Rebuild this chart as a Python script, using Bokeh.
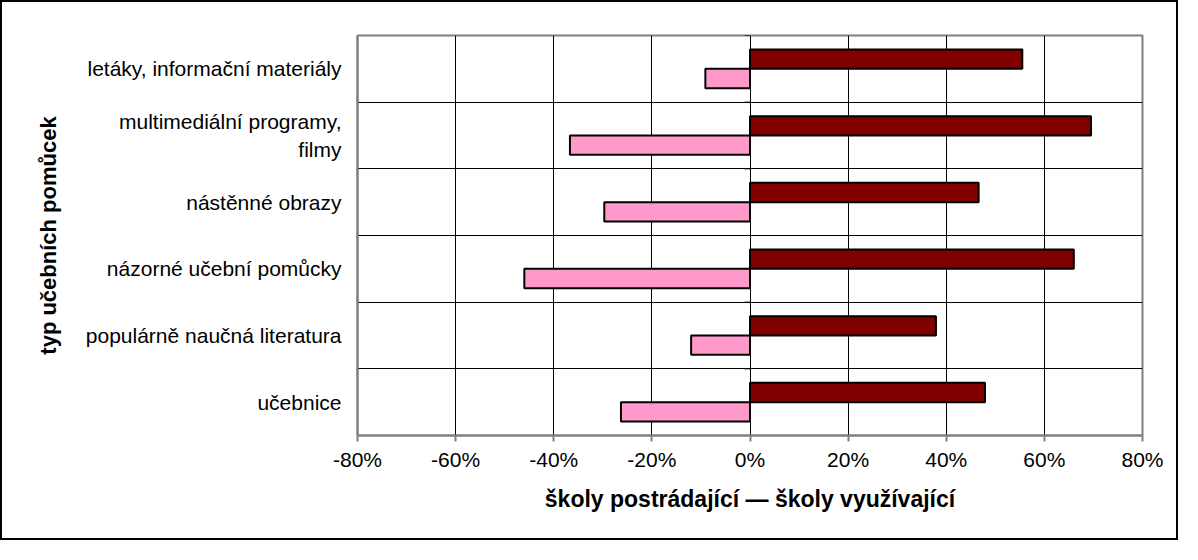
from bokeh.plotting import figure
from bokeh.models import ColumnDataSource, FixedTicker, PrintfTickFormatter, Range1d
from bokeh.transform import dodge
from bokeh.embed import file_html
from bokeh.resources import INLINE

# Data (top to bottom as in the chart)
categories = [
    "letáky, informační materiály",
    "multimediální programy,\nfilmy",
    "nástěnné obrazy",
    "názorné učební pomůcky",
    "populárně naučná literatura",
    "učebnice",
]
skoly_vyuzivajici = [55.5, 69.5, 46.6, 66.0, 37.9, 47.9]
skoly_postradajici = [-9.1, -36.7, -29.7, -46.0, -12.0, -26.3]
x_ticks = [-80, -60, -40, -20, 0, 20, 40, 60, 80]

n = len(categories)
positions = [n - 1 - i + 0.5 for i in range(n)]

source = ColumnDataSource(dict(
    cat=categories,
    pos=positions,
    use=skoly_vyuzivajici,
    lack=skoly_postradajici,
))

p = figure(
    width=1178, height=540,
    x_range=Range1d(x_ticks[0], x_ticks[-1]),
    y_range=Range1d(0, n),
    output_backend="svg", toolbar_location=None,
    min_border_left=355, min_border_right=38,
    min_border_top=33, min_border_bottom=107,
)
p.styles = {"border": "2px solid black"}
p.background_fill_color = "white"
p.border_fill_color = "white"
p.outline_line_color = "#808080"
p.outline_line_width = 2

bar_h = 0.29
p.hbar(y=dodge("pos", bar_h / 2, range=p.y_range), left=0, right="use", height=bar_h,
       source=source, fill_color="#800000", line_color="black", line_width=2)
p.hbar(y=dodge("pos", -bar_h / 2, range=p.y_range), left=0, right="lack", height=bar_h,
       source=source, fill_color="#FF99CC", line_color="black", line_width=2)

# grid
p.xgrid.ticker = FixedTicker(ticks=x_ticks[1:-1])
p.xgrid.grid_line_color = "black"
p.xgrid.grid_line_width = 1
p.ygrid.ticker = FixedTicker(ticks=list(range(1, n)))
p.ygrid.grid_line_color = "black"
p.ygrid.grid_line_width = 1

# small category-axis ticks at the 0 crossing
bounds = list(range(0, n + 1))
p.segment(x0=[0] * len(bounds), x1=[-1.1] * len(bounds), y0=bounds, y1=bounds,
          line_color="black", line_width=1)

font = "Liberation Sans"

# x axis
xa = p.xaxis[0]
xa.ticker = FixedTicker(ticks=x_ticks)
xa.formatter = PrintfTickFormatter(format="%d%%")
xa.axis_line_color = "#808080"
xa.axis_line_width = 2
xa.major_tick_line_color = "#808080"
xa.major_tick_line_width = 2
xa.major_tick_out = 6
xa.major_tick_in = 0
xa.minor_tick_line_color = None
xa.major_label_text_font = font
xa.major_label_text_font_size = "21px"
xa.major_label_text_color = "black"
xa.major_label_standoff = 6
xa.axis_label = "školy postrádající — školy využívající"
xa.axis_label_text_font = font
xa.axis_label_text_font_size = "23px"
xa.axis_label_text_font_style = "bold"
xa.axis_label_text_color = "black"
xa.axis_label_standoff = 12

# y axis
ya = p.yaxis[0]
ya.ticker = FixedTicker(ticks=positions)
ya.major_label_overrides = {pos: cat for pos, cat in zip(positions, categories)}
ya.axis_line_color = "#808080"
ya.axis_line_width = 2
ya.major_tick_line_color = None
ya.major_tick_out = 0
ya.major_tick_in = 0
ya.minor_tick_line_color = None
ya.major_label_text_font = font
ya.major_label_text_font_size = "21px"
ya.major_label_text_color = "black"
ya.major_label_standoff = 16
ya.axis_label = "typ učebních pomůcek"
ya.axis_label_text_font = font
ya.axis_label_text_font_size = "22px"
ya.axis_label_text_font_style = "bold"
ya.axis_label_text_color = "black"
ya.axis_label_standoff = 22

open("out.html", "w").write(file_html(p, INLINE))
